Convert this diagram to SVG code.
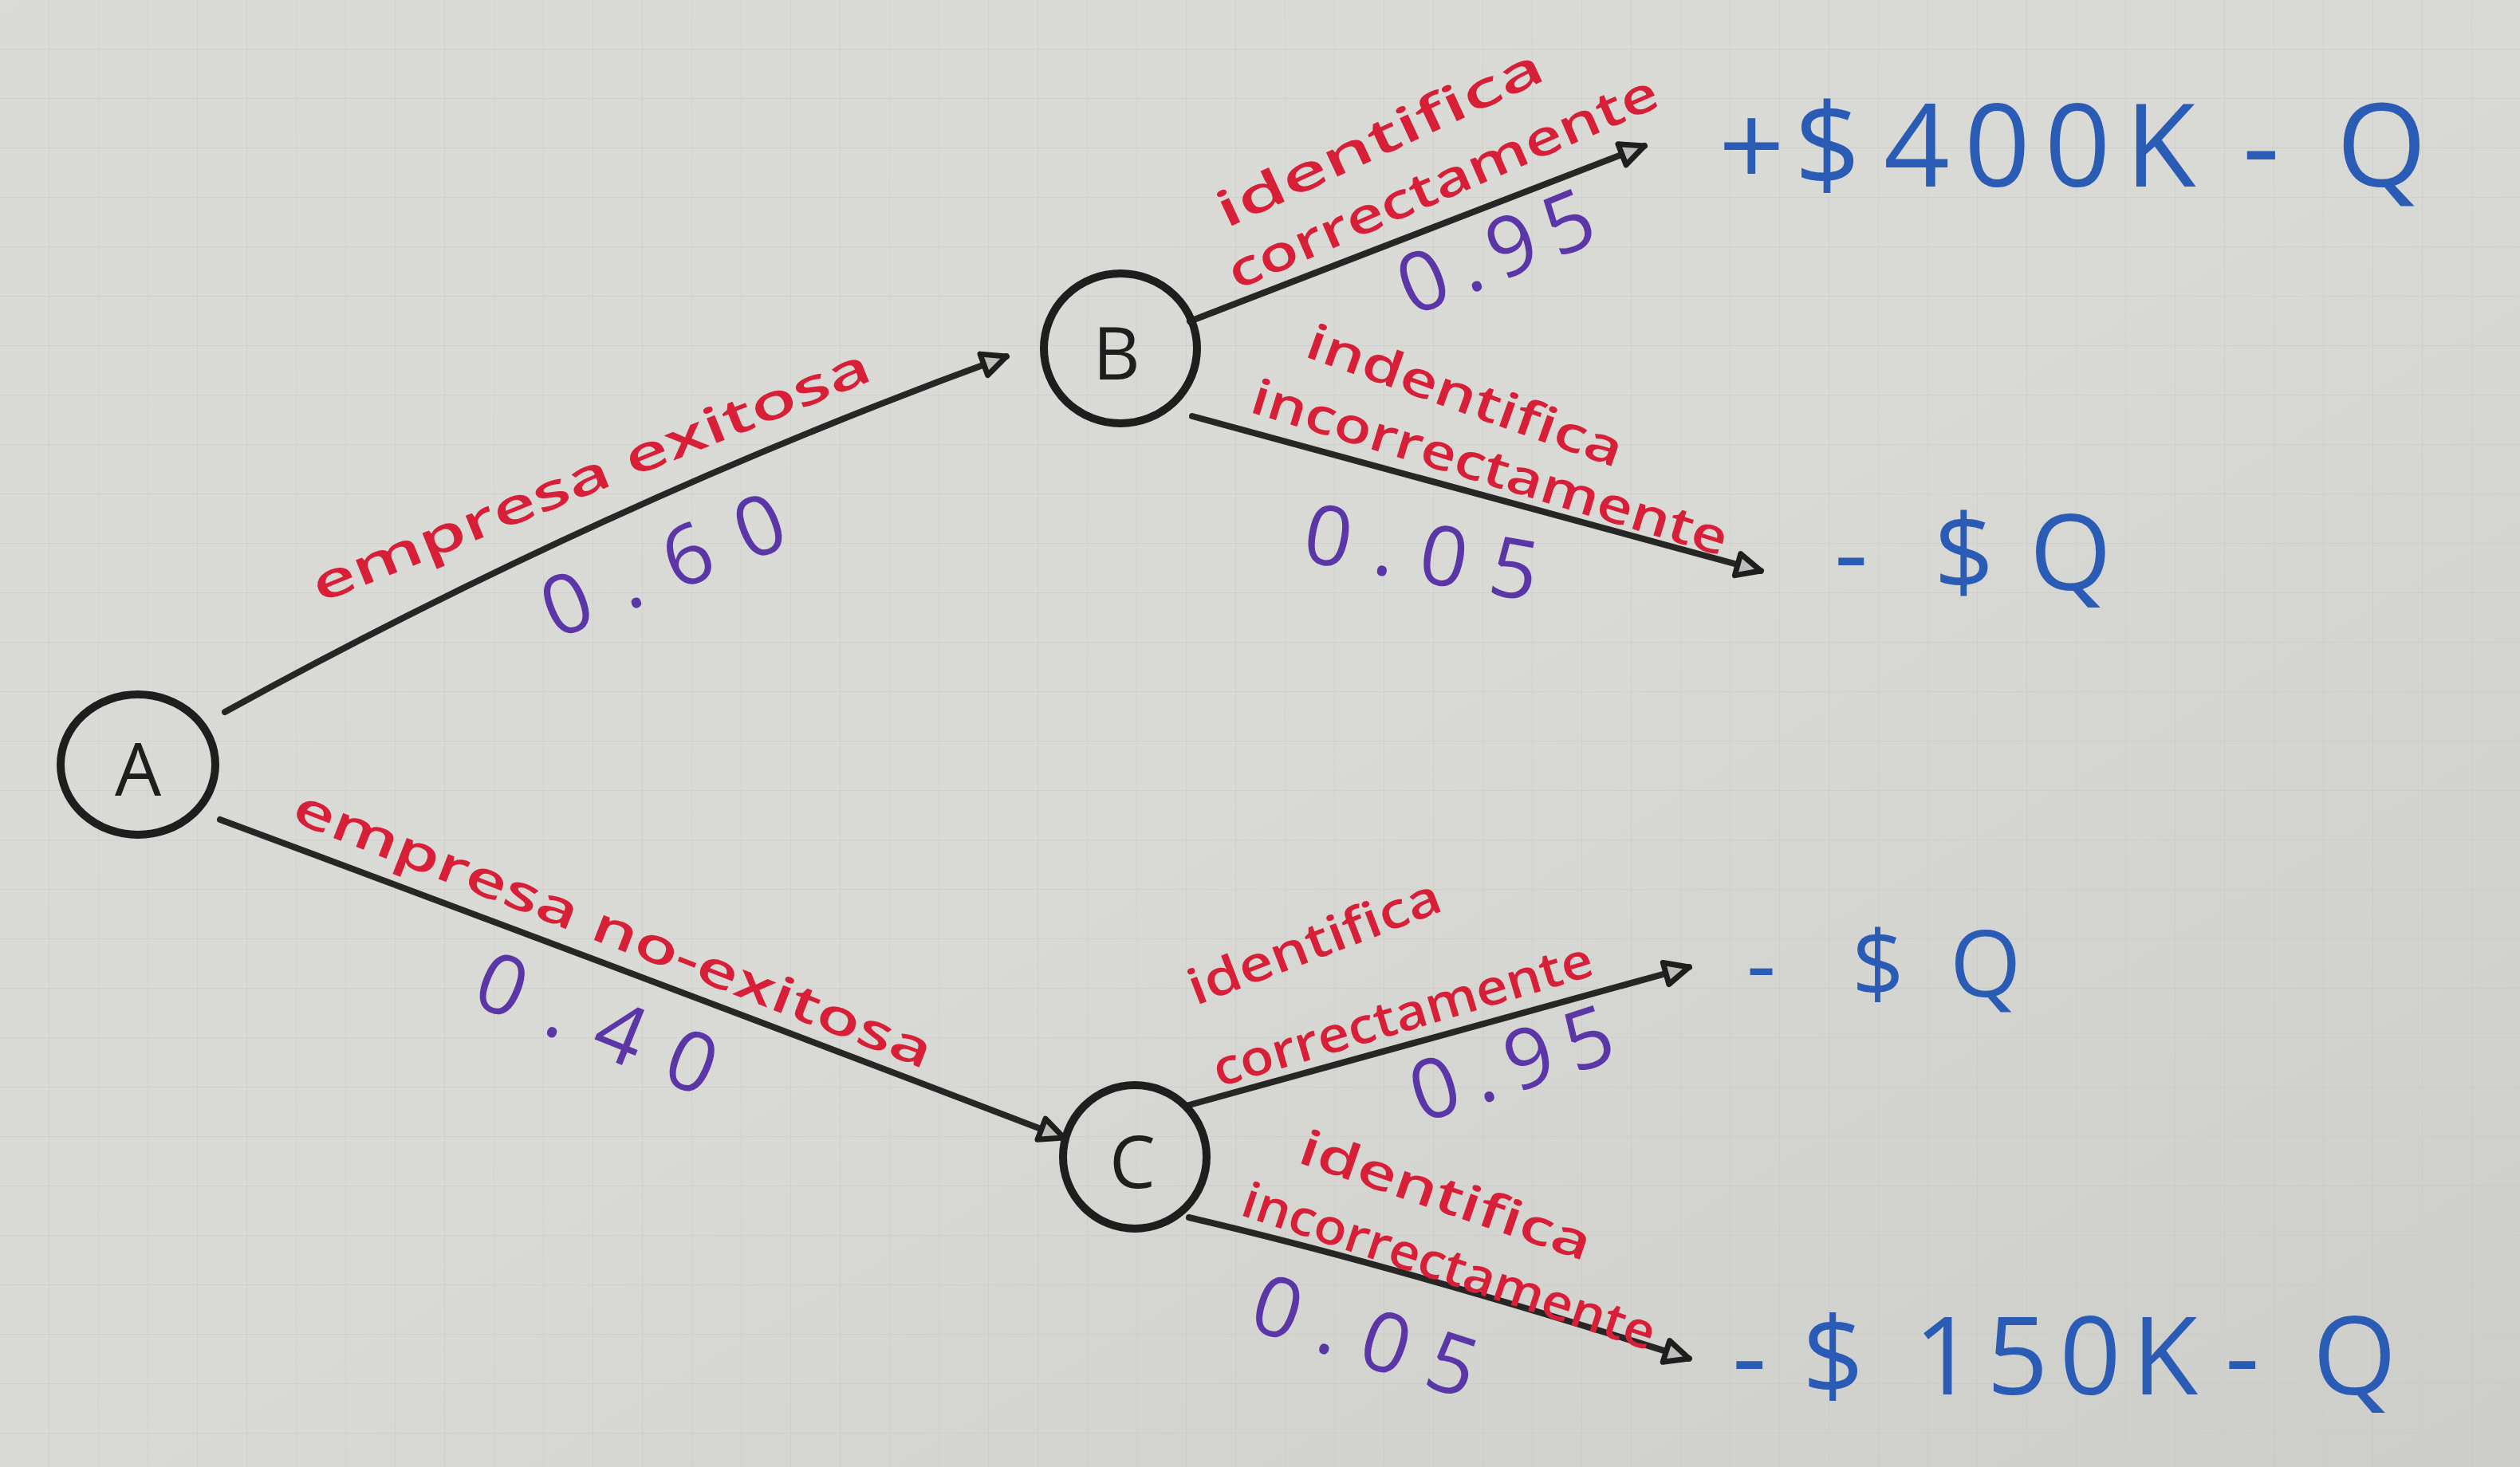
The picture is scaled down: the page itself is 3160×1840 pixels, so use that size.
<svg xmlns="http://www.w3.org/2000/svg" width="3160" height="1840" viewBox="0 0 3160 1840">
<defs>
<linearGradient id="bg" x1="0" y1="0" x2="1" y2="1">
<stop offset="0" stop-color="#dadad7"/>
<stop offset="0.5" stop-color="#d9d9d6"/>
<stop offset="1" stop-color="#cdcdca"/>
</linearGradient>
<pattern id="grid" width="62" height="62" patternUnits="userSpaceOnUse">
<path d="M62 0 V62 M0 62 H62" fill="none" stroke="#c4c4c1" stroke-width="1.5" opacity="0.6"/>
</pattern>
<marker id="arr" viewBox="0 0 20 20" refX="18" refY="10" markerWidth="5" markerHeight="5" orient="auto" markerUnits="strokeWidth">
<path d="M3 3 L18 10 L3 17 Z" fill="#bdbdba" stroke="#1e1e1e" stroke-width="3.5" stroke-linejoin="round"/>
</marker>
<style>
.node circle, .node ellipse{fill:none;stroke:#1e1e1e;stroke-width:10}
.node text{font-family:"Open Sans","Liberation Sans",sans-serif;font-size:92px;fill:#1e1e1e;text-anchor:middle;dominant-baseline:central}
.edge{fill:none;stroke:#262626;stroke-width:8;stroke-linecap:round;marker-end:url(#arr)}
.lbl{font-family:"Open Sans","Liberation Sans",sans-serif;font-size:62px;fill:#d81f38;text-anchor:middle;dominant-baseline:central;font-weight:600}
.prob{font-family:"Open Sans","Liberation Sans",sans-serif;font-size:104px;fill:#5b36a6;text-anchor:middle;dominant-baseline:central}
.pay{font-family:"Open Sans","Liberation Sans",sans-serif;fill:#2b5cb5;dominant-baseline:central}
</style>
</defs>
<rect width="3160" height="1840" fill="url(#bg)"/>
<rect width="3160" height="1840" fill="url(#grid)"/>

<g id="connectors">
<path class="edge" d="M282 893 Q760 630 1262 447"/>
<path class="edge" d="M276 1028 Q820 1230 1334 1427"/>
<path class="edge" d="M1492 403 L2062 183"/>
<path class="edge" d="M1495 522 L2208 716"/>
<path class="edge" d="M1491 1386 L2118 1213"/>
<path class="edge" d="M1491 1527 Q1760 1590 2118 1704"/>
</g>

<g id="node-A" class="node"><ellipse cx="173" cy="959" rx="97" ry="88"/><text x="173" y="962">A</text></g>
<g id="node-B" class="node"><ellipse cx="1405" cy="437" rx="96" ry="94"/><text x="1400" y="440">B</text></g>
<g id="node-C" class="node"><ellipse cx="1423" cy="1451" rx="90" ry="90"/><text x="1420" y="1454">C</text></g>

<g id="labels">
<text class="lbl" transform="translate(740 594) rotate(-22)" textLength="750" lengthAdjust="spacingAndGlyphs">empresa exitosa</text>
<text class="prob" transform="translate(830 705) rotate(-22)" textLength="320" lengthAdjust="spacing">0.60</text>
<text class="lbl" transform="translate(770 1163) rotate(21.4)" textLength="855" lengthAdjust="spacingAndGlyphs">empresa no-exitosa</text>
<text class="prob" transform="translate(750 1280) rotate(22)" textLength="316" lengthAdjust="spacing">0.40</text>

<text class="lbl" transform="translate(1729 171) rotate(-25)" textLength="445" lengthAdjust="spacingAndGlyphs">identifica</text>
<text class="lbl" transform="translate(1808 226) rotate(-23.5)" textLength="582" lengthAdjust="spacingAndGlyphs">correctamente</text>
<text class="prob" transform="translate(1874 312) rotate(-22)" textLength="256" lengthAdjust="spacing">0.95</text>

<text class="lbl" transform="translate(1838 494) rotate(19.7)" textLength="417" lengthAdjust="spacingAndGlyphs">indentifica</text>
<text class="lbl" transform="translate(1869 584) rotate(17)" textLength="621" lengthAdjust="spacingAndGlyphs">incorrectamente</text>
<text class="prob" transform="translate(1783 689) rotate(10)" textLength="296" lengthAdjust="spacing">0.05</text>

<text class="lbl" transform="translate(1647 1179) rotate(-21)" textLength="335" lengthAdjust="spacingAndGlyphs">identifica</text>
<text class="lbl" transform="translate(1758 1270) rotate(-16.6)" textLength="494" lengthAdjust="spacingAndGlyphs">correctamente</text>
<text class="prob" transform="translate(1894 1330) rotate(-18)" textLength="262" lengthAdjust="spacing">0.95</text>

<text class="lbl" transform="translate(1814 1497) rotate(19)" textLength="383" lengthAdjust="spacingAndGlyphs">identifica</text>
<text class="lbl" transform="translate(1818 1586) rotate(18.4)" textLength="542" lengthAdjust="spacingAndGlyphs">incorrectamente</text>
<text class="prob" transform="translate(1713 1672) rotate(18)" textLength="290" lengthAdjust="spacing">0.05</text>
</g>

<g id="payoffs">
<text class="pay" y="177" font-size="145"><tspan x="2155">+</tspan><tspan x="2250">$</tspan><tspan x="2362" letter-spacing="18">400K</tspan><tspan x="2812">-</tspan><tspan x="2930">Q</tspan></text>
<text class="pay" y="689" font-size="132"><tspan x="2300">-</tspan><tspan x="2425">$</tspan><tspan x="2545">Q</tspan></text>
<text class="pay" y="1205" font-size="115"><tspan x="2190">-</tspan><tspan x="2322">$</tspan><tspan x="2445">Q</tspan></text>
<text class="pay" y="1697" font-size="135"><tspan x="2172">-</tspan><tspan x="2260">$</tspan><tspan x="2400" letter-spacing="14">150K</tspan><tspan x="2790">-</tspan><tspan x="2900">Q</tspan></text>
</g>
</svg>
